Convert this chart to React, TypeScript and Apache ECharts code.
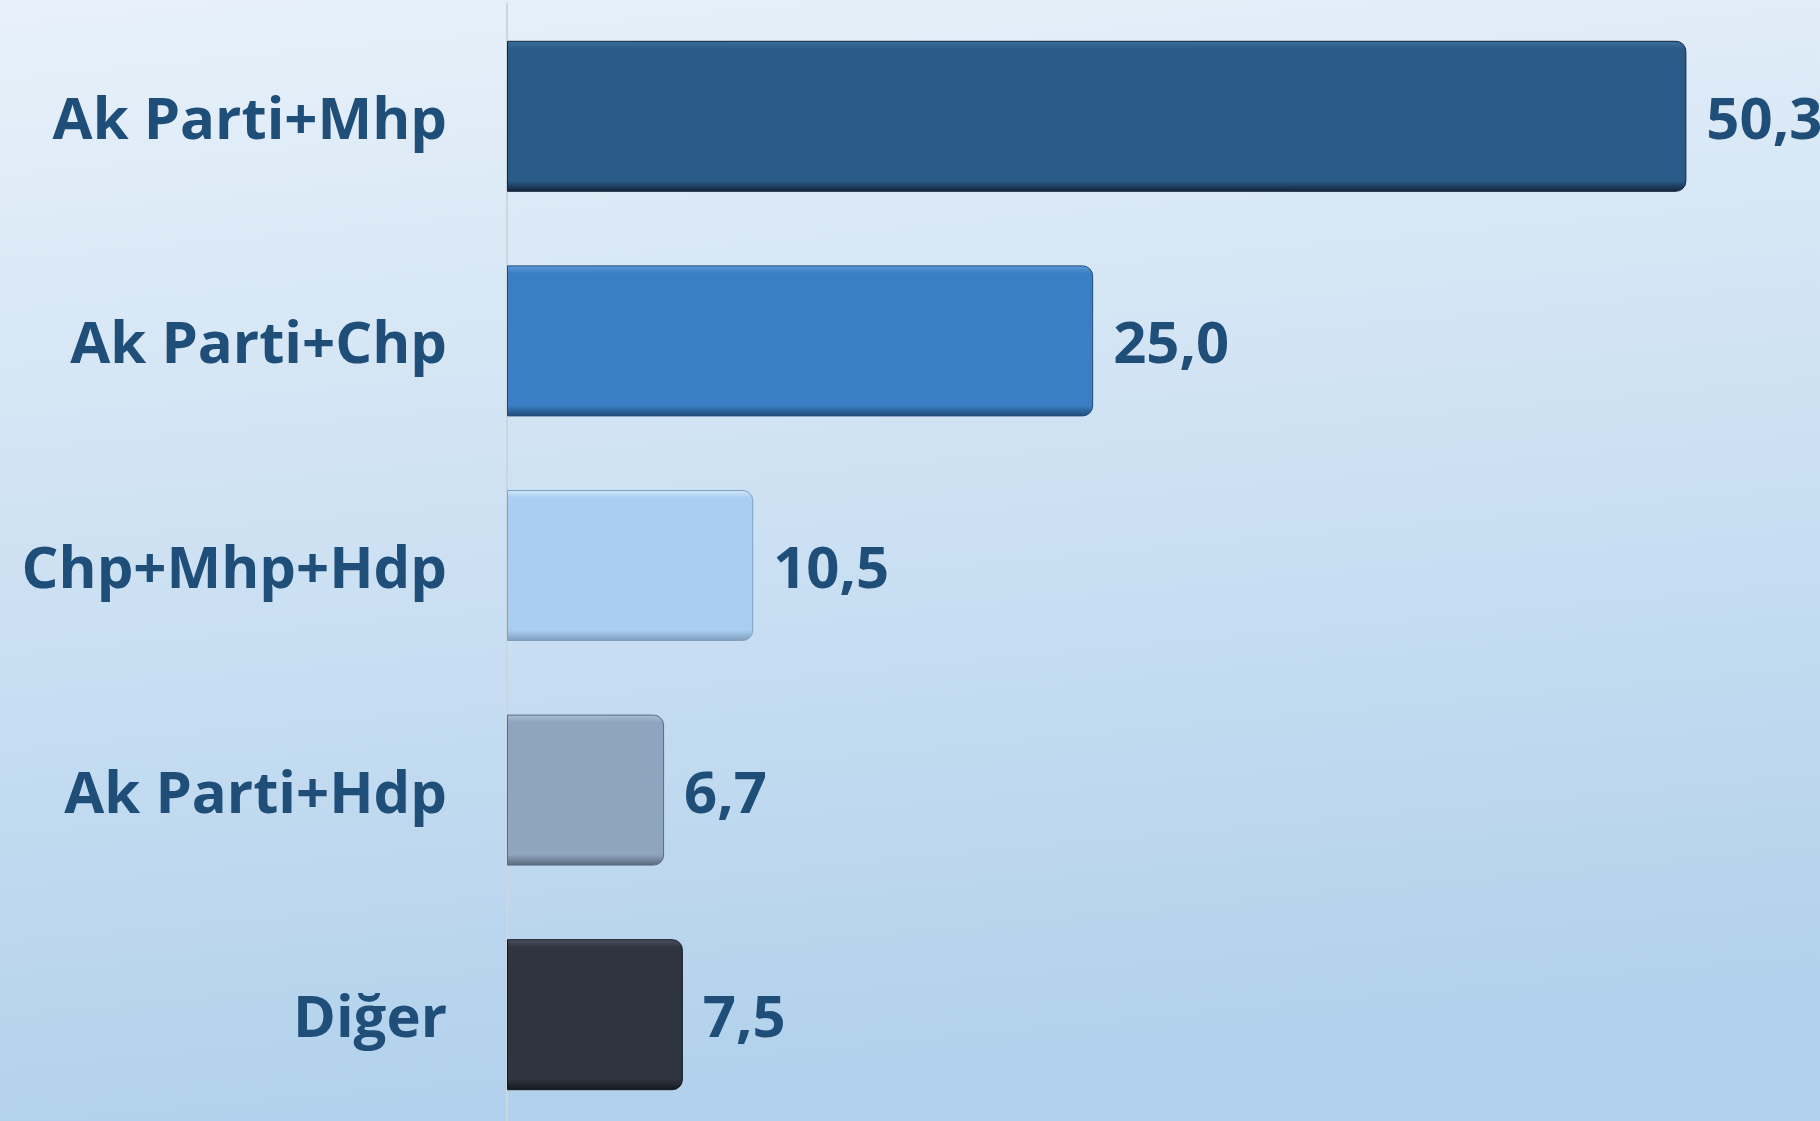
import React, { useEffect, useRef } from "react";
import * as echarts from "echarts";

const categories = ["Ak Parti+Mhp", "Ak Parti+Chp", "Chp+Mhp+Hdp", "Ak Parti+Hdp", "Diğer"];
const values = [50.3, 25.0, 10.5, 6.7, 7.5];
const baseColors = ["#2a5a87", "#3a7fc3", "#a9cef1", "#8ea4bf", "#2e3440"];
const topColors = ["#3e6f9c", "#5a9ad8", "#cfe6fb", "#a9bcd3", "#4a525e"];
const bottomColors = ["#12263c", "#214c78", "#7f9fbf", "#5b6b80", "#15191f"];

export default function App() {
  const ref = useRef<HTMLDivElement>(null);
  useEffect(() => {
    document.body.style.margin = "0";
    document.body.style.overflow = "hidden";
    const chart = echarts.init(ref.current!, null, { renderer: "svg" });
    const fmt = (v: number) => v.toFixed(1).replace(".", ",");
    chart.setOption({
      animation: false,
      backgroundColor: new echarts.graphic.LinearGradient(0, 0, 0.15, 1, [
        { offset: 0, color: "#e8f1fa" },
        { offset: 1, color: "#b2d1ec" },
      ]),
      grid: { left: 507, right: 0, top: 4, bottom: 0, containLabel: false },
      xAxis: {
        type: "value",
        min: 0,
        max: 56,
        show: false,
      },
      yAxis: {
        type: "category",
        data: categories,
        inverse: true,
        axisLine: { show: true, lineStyle: { color: "#cdd5dd", width: 2 } },
        axisTick: { show: false },
        axisLabel: {
          margin: 60,
          color: "#1f4e79",
          fontFamily: "Open Sans",
          fontWeight: "bold",
          fontSize: 58,
        },
      },
      series: [
        {
          type: "bar",
          barWidth: 151,
          data: values.map((v, i) => ({
            value: v,
            itemStyle: {
              color: new echarts.graphic.LinearGradient(0, 0, 0, 1, [
                { offset: 0, color: topColors[i] },
                { offset: 0.05, color: baseColors[i] },
                { offset: 0.93, color: baseColors[i] },
                { offset: 1, color: bottomColors[i] },
              ]),
              borderRadius: [0, 10, 10, 0],
              borderColor: bottomColors[i],
              borderWidth: 1,
            },
          })),
          label: {
            show: true,
            position: "right",
            distance: 20,
            formatter: (p: any) => fmt(p.value),
            color: "#1f4e79",
            fontFamily: "Open Sans",
            fontWeight: "bold",
            fontSize: 58,
          },
        },
      ],
    });
    return () => chart.dispose();
  }, []);
  return <div ref={ref} style={{ width: 1820, height: 1127 }} />;
}
